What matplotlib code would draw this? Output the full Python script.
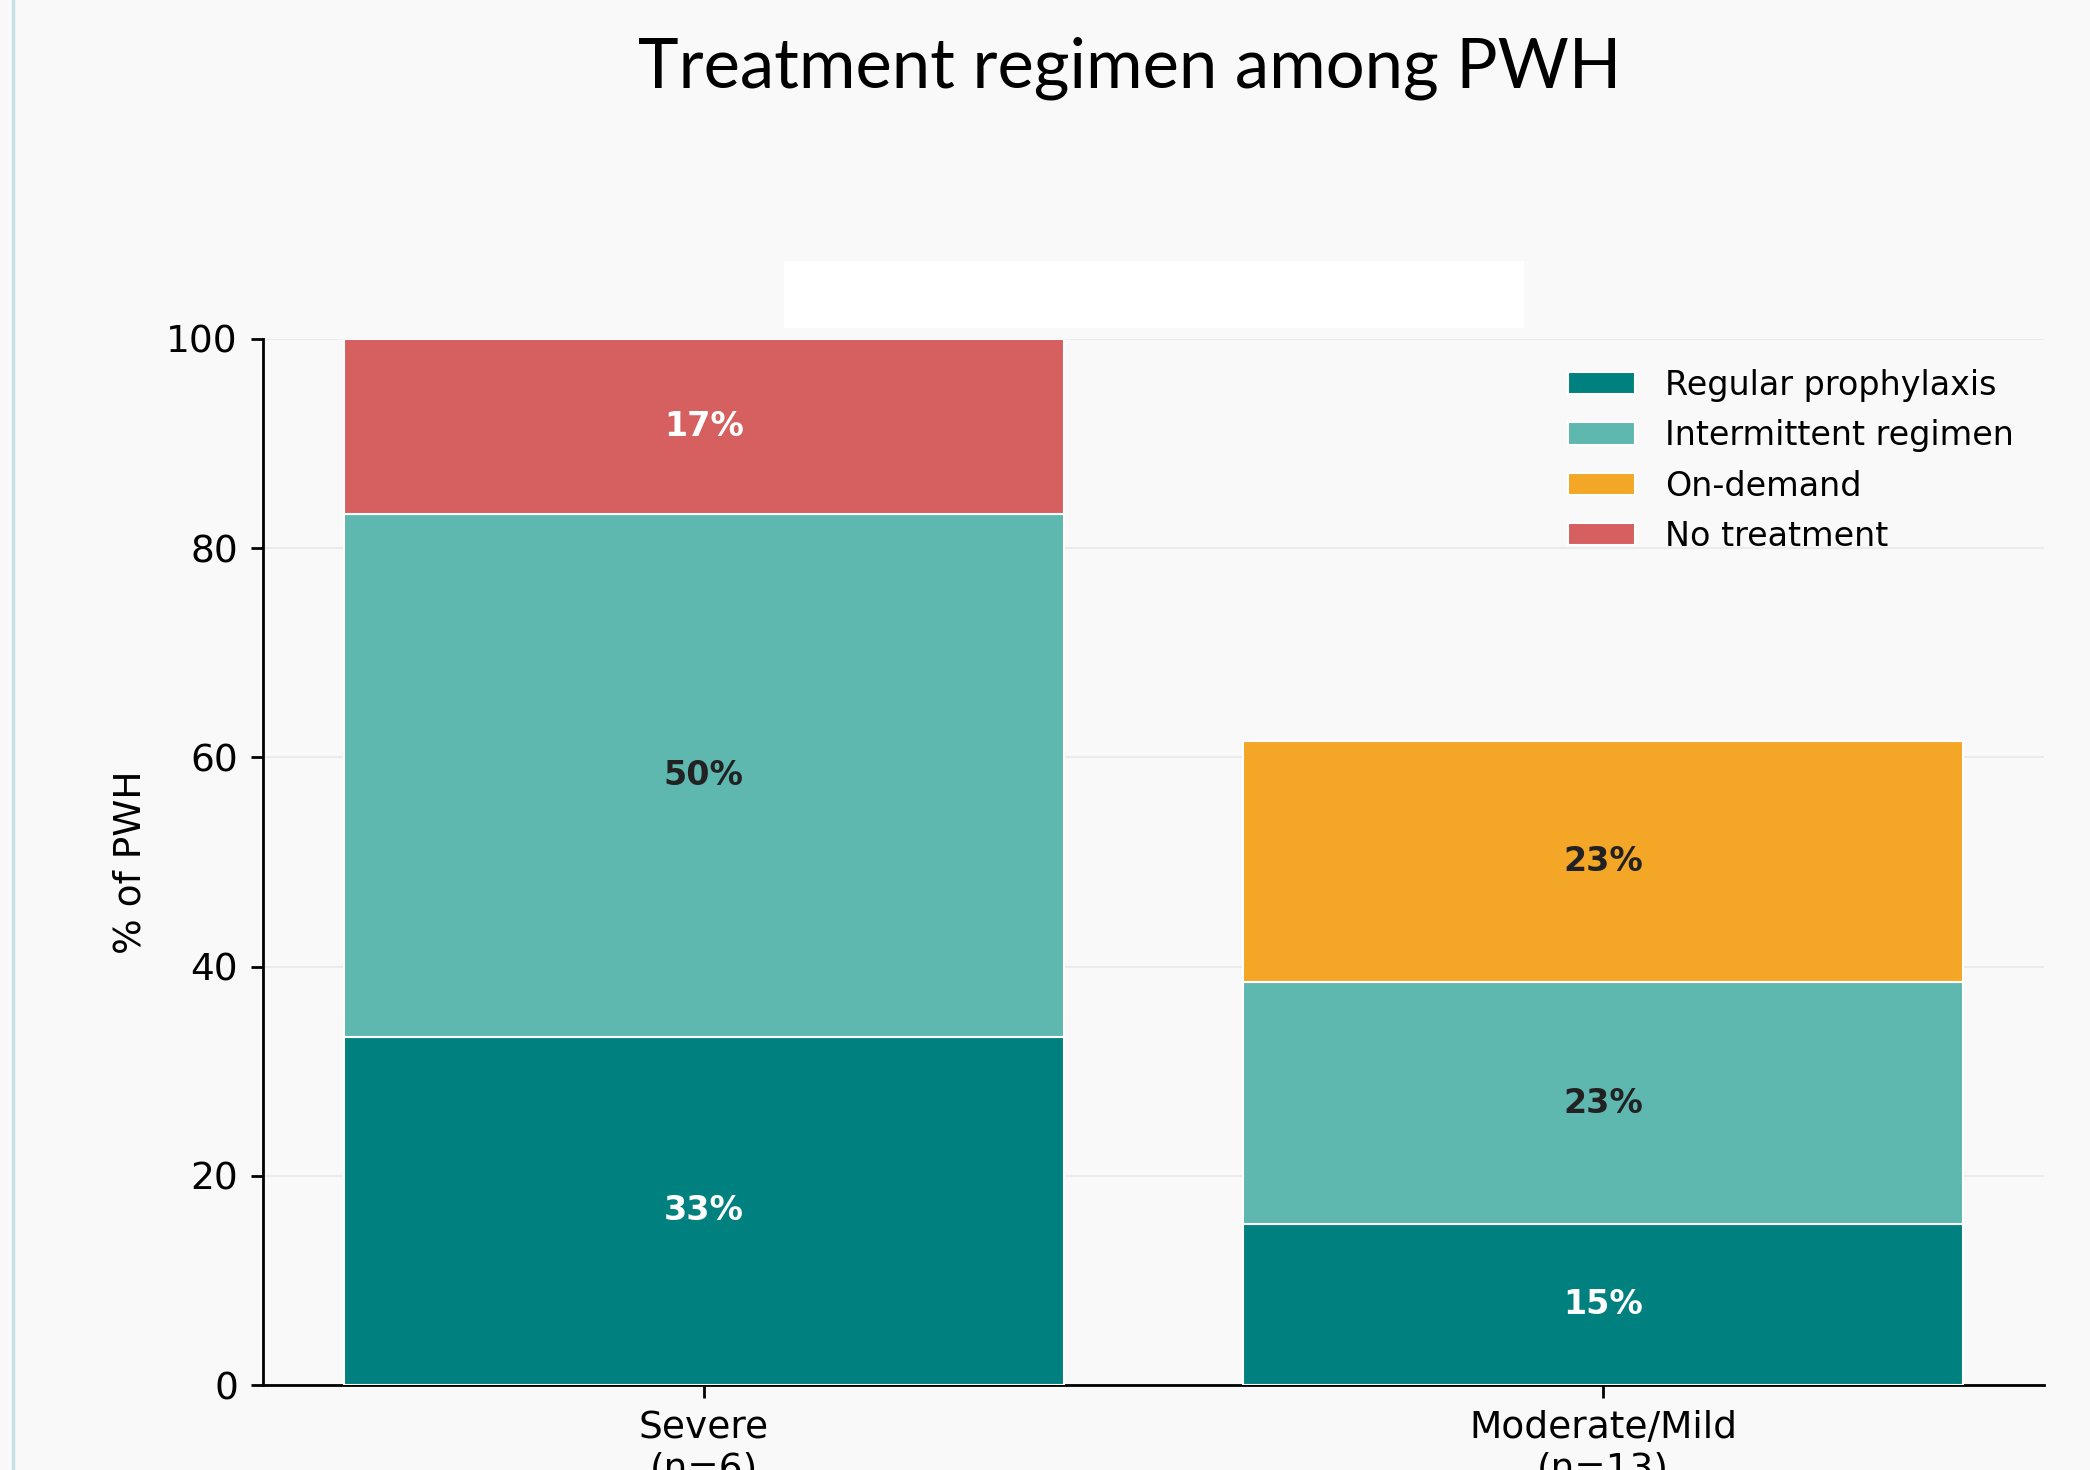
import matplotlib.pyplot as plt
from matplotlib.patches import Rectangle
from matplotlib.lines import Line2D

# data
groups = ['Severe\n(n=6)', 'Moderate/Mild\n(n=13)']
categories = ['Regular prophylaxis', 'Intermittent regimen', 'On-demand', 'No treatment']
regular = [33.3, 15.4]
intermittent = [50.0, 23.1]
on_demand = [0.0, 23.1]
no_treatment = [16.7, 0.0]
colors = ['#00807f', '#5fb8b0', '#f4a626', '#d65f5f']
label_colors = ['white', '#222222', '#222222', 'white']

bg = '#f9f9fa'

fig = plt.figure(figsize=(20.9, 14.7), dpi=100, facecolor=bg)
ax = fig.add_axes([0.1258, 0.0578, 0.8522, 0.7116])
ax.set_facecolor(bg)

series = [regular, intermittent, on_demand, no_treatment]
x = list(range(len(groups)))
bottom = [0.0] * len(groups)
for vals, col, lcol, name in zip(series, colors, label_colors, categories):
    bars = ax.bar(x, vals, width=0.8, bottom=bottom, color=col, edgecolor='white',
                  linewidth=1.5, label=name, zorder=3)
    for b, v, bt in zip(bars, vals, bottom):
        if v > 0:
            ax.text(b.get_x() + b.get_width() / 2, bt + v / 2, '%d%%' % round(v),
                    ha='center', va='center', fontsize=24, fontweight='bold',
                    color=lcol, zorder=4)
    bottom = [a + b for a, b in zip(bottom, vals)]

ax.set_xlim(-0.49, 1.49)
ax.set_ylim(0, 100)
ax.set_yticks([0, 20, 40, 60, 80, 100])
ax.set_xticks(x)
ax.set_xticklabels(groups)
ax.yaxis.grid(True, color='#ebebeb', linewidth=1.5, zorder=0)
ax.set_axisbelow(True)
for s in ['top', 'right']:
    ax.spines[s].set_visible(False)
for s in ['left', 'bottom']:
    ax.spines[s].set_linewidth(2)
ax.tick_params(axis='both', labelsize=27, width=2, length=9, pad=9)
ax.tick_params(axis='x', pad=9)
ax.set_ylabel('% of PWH', fontsize=27, labelpad=13)

leg = ax.legend(loc='upper right', bbox_to_anchor=(1.0, 1.0), frameon=False,
                fontsize=24, handlelength=2.0, handleheight=0.65,
                labelspacing=0.52, handletextpad=0.9)

# title and decorations
fig.text(0.5407, 0.9408, 'Treatment regimen among PWH', fontsize=49.5,
         family='Lato', ha='center', va='baseline')
fig.patches.append(Rectangle((0.3751, 0.7769), 0.354, 0.0456, transform=fig.transFigure,
                             facecolor='white', edgecolor='none'))
fig.lines.append(Line2D([0.0062, 0.0062], [0, 1], transform=fig.transFigure,
                        color='#c8e2e2', linewidth=2.5))

fig.savefig('out.png', dpi=100, facecolor=bg)
